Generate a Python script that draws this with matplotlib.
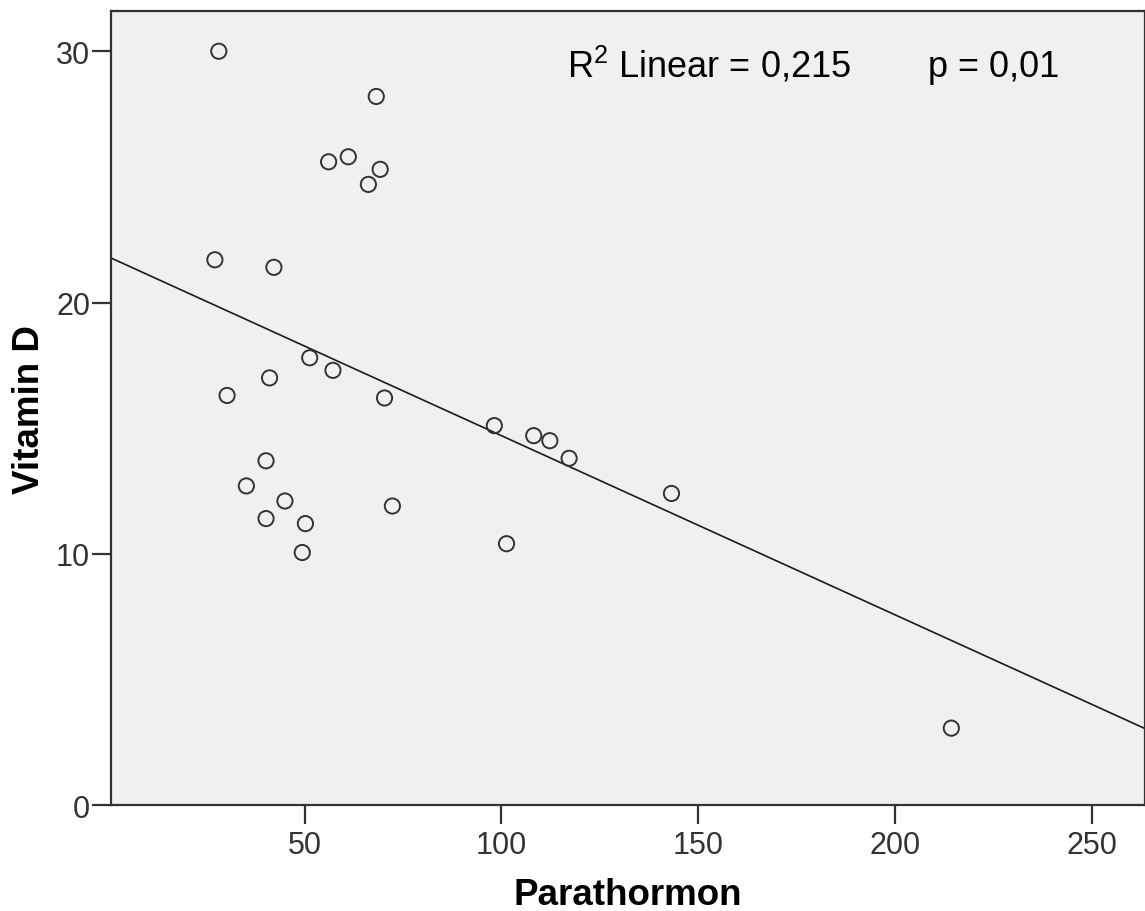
import numpy as np
import matplotlib
matplotlib.use("Agg")
import matplotlib.pyplot as plt

plt.rcParams['font.family'] = ['Liberation Sans', 'DejaVu Sans']
plt.rcParams['mathtext.fontset'] = 'custom'
plt.rcParams['mathtext.rm'] = 'Liberation Sans'
plt.rcParams['mathtext.default'] = 'regular'

# Data
parathormon = [28.2, 68.2, 56.1, 61.1, 69.2, 66.2, 27.2, 42.2, 51.3, 57.2,
               41.1, 30.3, 70.3, 98.2, 108.2, 112.3, 117.2, 143.2, 40.2, 35.2,
               45.0, 40.2, 50.2, 72.3, 49.4, 101.3, 214.3]
vitamin_d = [30.0, 28.2, 25.6, 25.8, 25.3, 24.7, 21.7, 21.4, 17.8, 17.3,
             17.0, 16.3, 16.2, 15.1, 14.7, 14.5, 13.8, 12.4, 13.7, 12.7,
             12.1, 11.4, 11.2, 11.9, 10.05, 10.4, 3.06]

# Fit line
fit_intercept = 21.83
fit_slope = -0.0713

x_ticks = [50, 100, 150, 200, 250]
y_ticks = [0, 10, 20, 30]
x_lim = (0.8, 263.5)
y_lim = (0, 31.6)

fig = plt.figure(figsize=(11.45, 9.12), dpi=100)
ax = fig.add_axes([0.0969, 0.1162, 0.9031, 0.8706])
ax.set_facecolor('#f0f0f0')

xs = np.array(x_lim)
ax.plot(xs, fit_intercept + fit_slope * xs, color='#1a1a1a', lw=1.2, zorder=2)

ax.scatter(parathormon, vitamin_d, s=120, facecolors='none',
           edgecolors='#333333', linewidths=1.4, zorder=3)

ax.set_xlim(*x_lim)
ax.set_ylim(*y_lim)
ax.set_xticks(x_ticks)
ax.set_yticks(y_ticks)

for side in ['left', 'bottom', 'top', 'right']:
    ax.spines[side].set_color('#333333')
    ax.spines[side].set_linewidth(1.6)

ax.tick_params(axis='both', direction='out', length=14, width=1.6,
               color='#333333', labelcolor='#333333', labelsize=22)
ax.tick_params(axis='x', pad=4)
ax.tick_params(axis='y', pad=1)

# axis titles placed in figure coordinates
fig.text(0.5485, 1 - 905 / 912, 'Parathormon', fontsize=26.5,
         fontweight='bold', ha='center', va='baseline')
fig.text(47 / 1145, 1 - 410 / 912, 'Vitamin D', fontsize=26.5,
         fontweight='bold', ha='right', va='center', rotation=90)

ax.text(0.441, 0.918, r'R$^{2}$ Linear = 0,215', transform=ax.transAxes,
        fontsize=26, color='black', ha='left', va='baseline')
ax.text(0.790, 0.918, 'p = 0,01', transform=ax.transAxes,
        fontsize=26, color='black', ha='left', va='baseline')

fig.savefig('out.png', dpi=100)
